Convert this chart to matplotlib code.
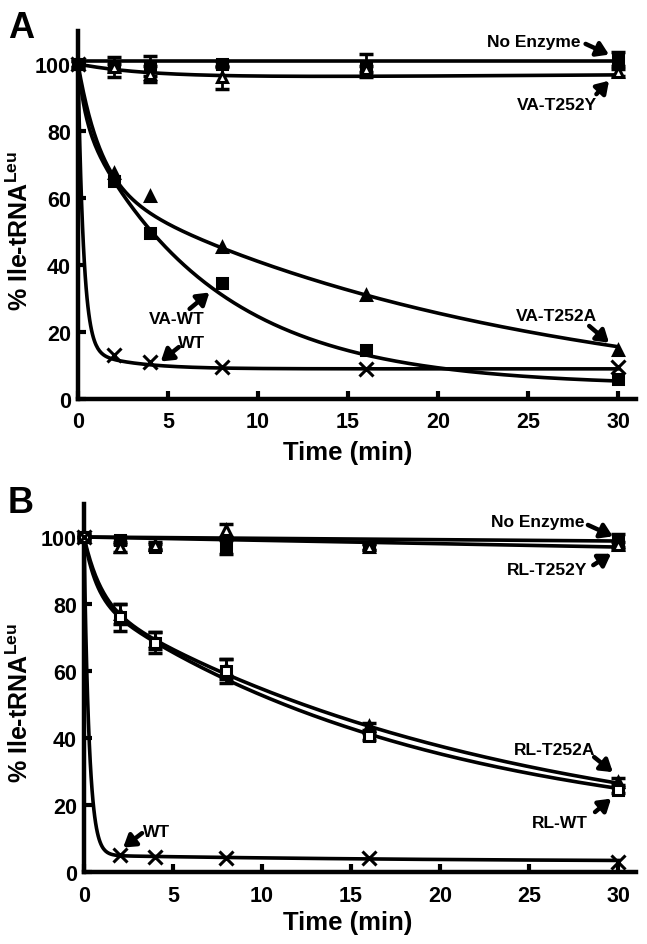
import numpy as np
import matplotlib
matplotlib.use("Agg")
import matplotlib.pyplot as plt

plt.rcParams['font.family'] = ['Liberation Sans', 'DejaVu Sans']
plt.rcParams['font.weight'] = 'bold'
plt.rcParams['mathtext.fontset'] = 'custom'
plt.rcParams['mathtext.rm'] = 'Liberation Sans:bold'
plt.rcParams['mathtext.bf'] = 'Liberation Sans:bold'
plt.rcParams['mathtext.it'] = 'Liberation Sans:bold'

# ---------------- data ----------------
time = [0, 2, 4, 8, 16, 30]

# Panel A
a_noenz = [100, 99, 99.5, 100, 99.5, 101.5]
a_noenz_err = [1, 3, 3, 1, 3.5, 2]
a_t252y = [100, 99, 97, 96, 98.5, 97.5]
a_t252y_err = [1, 1, 2.5, 3.5, 1, 1]
a_vawt = [100, 65, 49.5, 34.5, 14.5, 6]
a_t252a = [100, 67.5, 60.5, 45.5, 31, 14.5]
a_wt = [100, 13, 11, 9.5, 9, 9.5]

# fit parameters: [C, A1, k1, A2, k2, slope]
fit_a_noenz = [101, 0, 0, 0, 0, 0]
fit_a_t252y = [95.7, 4.3, 0.25, 0, 0, 0.035]
fit_a_vawt = [4, 16, 2.5, 80, 0.1356, 0]
fit_a_t252a = [-3, 35.2, 0.8, 67.8, 0.0431, 0]
fit_a_wt = [9, 85, 3.3, 6, 0.4, 0]

# Panel B
b_noenz = [100, 99, 97, 97, 97, 99]
b_noenz_err = [1, 1, 1, 2, 1, 2]
b_t252y = [100, 97, 97.5, 102, 97, 97.5]
b_t252y_err = [1, 1.5, 1, 2, 1, 1]
b_rlwt = [100, 76, 68.5, 60, 40.5, 24.5]
b_rlwt_err = [0, 4, 3, 3.5, 1, 1]
b_t252a = [100, 77, 69, 60.5, 43.5, 27]
b_t252a_err = [0, 3, 2.5, 3, 1, 1]
b_wt = [100, 5, 4.5, 4.3, 4.3, 3]

fit_b_noenz = [100, 0, 0, 0, 0, -0.04]
fit_b_t252y = [100, 0, 0, 0, 0, -0.1]
fit_b_rlwt = [10, 17.8, 1.44, 72.2, 0.0525, 0]
fit_b_t252a = [6, 19.1, 1.06, 74.9, 0.0432, 0]
fit_b_wt = [3, 95, 3.5, 2, 0.05, 0]

x_ticks = [0, 5, 10, 15, 20, 25, 30]
y_ticks = [0, 20, 40, 60, 80, 100]


def fit_curve(p, t):
    C, A1, k1, A2, k2, s = p
    return C + A1 * np.exp(-k1 * t) + A2 * np.exp(-k2 * t) + s * t


tt = np.linspace(0, 30, 600)

fig = plt.figure(figsize=(6.47, 9.45), dpi=100)
W, H = 647.0, 945.0
axA = fig.add_axes([78 / W, 1 - 400 / H, 558 / W, 368.5 / H])
axB = fig.add_axes([84 / W, 1 - 873 / H, 552 / W, 368.5 / H])

LW = 2.6
MS = 7.5


def style(ax):
    ax.set_xlim(0, 31)
    ax.set_ylim(0, 110)
    for s in ['top', 'right']:
        ax.spines[s].set_visible(False)
    for s in ['left', 'bottom']:
        ax.spines[s].set_linewidth(3.2)
    ax.set_xticks(x_ticks)
    ax.set_yticks(y_ticks)
    ax.tick_params(direction='in', length=6, width=3, labelsize=15.5, pad=5)
    ax.tick_params(axis='x', pad=9)
    for lab in ax.get_xticklabels() + ax.get_yticklabels():
        lab.set_fontweight('bold')
    ax.set_xlabel('Time (min)', fontsize=18.5, fontweight='bold')
    ax.set_ylabel('% Ile-tRNA$^{\\mathrm{Leu}}$', fontsize=18, fontweight='bold')


def pts(ax, y, marker, filled=True, err=None, ms=MS):
    fc = 'black' if filled else 'white'
    if err is not None:
        ax.errorbar(time, y, yerr=err, fmt='none', ecolor='black', elinewidth=2,
                    capsize=5, capthick=2.5, clip_on=False, zorder=4)
    ax.plot(time, y, linestyle='none', marker=marker, ms=ms, mfc=fc, mec='black',
            mew=2.2, clip_on=False, zorder=5)


def arrow(ax, text, tx, ty, ax0, ay0, ax1, ay1):
    ax.text(tx, ty, text, ha='center', va='center', fontsize=12.5, fontweight='bold')
    ax.annotate('', xy=(ax1, ay1), xytext=(ax0, ay0),
                arrowprops=dict(arrowstyle='-|>,head_length=0.7,head_width=0.45',
                                lw=3.2, color='black', shrinkA=0, shrinkB=0),
                annotation_clip=False, zorder=6)


# ---------- Panel A ----------
for p in [fit_a_noenz, fit_a_t252y, fit_a_vawt, fit_a_t252a, fit_a_wt]:
    axA.plot(tt, fit_curve(p, tt), color='black', lw=LW, zorder=3, clip_on=False)
pts(axA, a_noenz, 's', True, a_noenz_err)
pts(axA, a_t252y, '^', False, a_t252y_err)
pts(axA, a_vawt, 's', True)
pts(axA, a_t252a, '^', True)
pts(axA, a_wt, 'x', True, ms=9.5)
style(axA)
axA.xaxis.set_label_coords(0.484, -0.11)
axA.yaxis.set_label_coords(-0.081, 0.458)

arrow(axA, 'No Enzyme', 25.3, 106.6, 28.2, 106.0, 29.5, 102.8)
arrow(axA, 'VA-T252Y', 26.6, 87.8, 28.8, 91.0, 29.5, 95.0)
arrow(axA, 'VA-T252A', 26.6, 24.8, 28.4, 21.8, 29.5, 16.8)
arrow(axA, 'VA-WT', 5.5, 23.9, 6.2, 26.9, 7.3, 31.8)
arrow(axA, 'WT', 6.3, 17.0, 5.6, 15.5, 4.6, 11.2)

# ---------- Panel B ----------
for p in [fit_b_noenz, fit_b_t252y, fit_b_rlwt, fit_b_t252a, fit_b_wt]:
    axB.plot(tt, fit_curve(p, tt), color='black', lw=LW, zorder=3, clip_on=False)
pts(axB, b_noenz, 's', True, b_noenz_err)
pts(axB, b_t252y, '^', False, b_t252y_err)
pts(axB, b_t252a, '^', True, b_t252a_err)
pts(axB, b_rlwt, 's', False, b_rlwt_err)
pts(axB, b_wt, 'x', True, ms=9.5)
style(axB)
axB.xaxis.set_label_coords(0.478, -0.102)
axB.yaxis.set_label_coords(-0.093, 0.462)

arrow(axB, 'No Enzyme', 25.5, 104.5, 28.3, 103.6, 29.7, 100.2)
arrow(axB, 'RL-T252Y', 26.0, 90.4, 28.6, 91.6, 29.6, 95.0)
arrow(axB, 'RL-T252A', 26.4, 36.7, 28.65, 34.3, 29.7, 29.8)
arrow(axB, 'RL-WT', 26.7, 14.9, 28.7, 17.9, 29.6, 21.9)
arrow(axB, 'WT', 4.1, 12.2, 3.26, 11.6, 2.2, 7.3)

fig.text(8 / W, 1 - 38 / H, 'A', fontsize=26, fontweight='bold', va='baseline', ha='left')
fig.text(8 / W, 1 - 513 / H, 'B', fontsize=26, fontweight='bold', va='baseline', ha='left')

fig.savefig('out.png', dpi=100)
